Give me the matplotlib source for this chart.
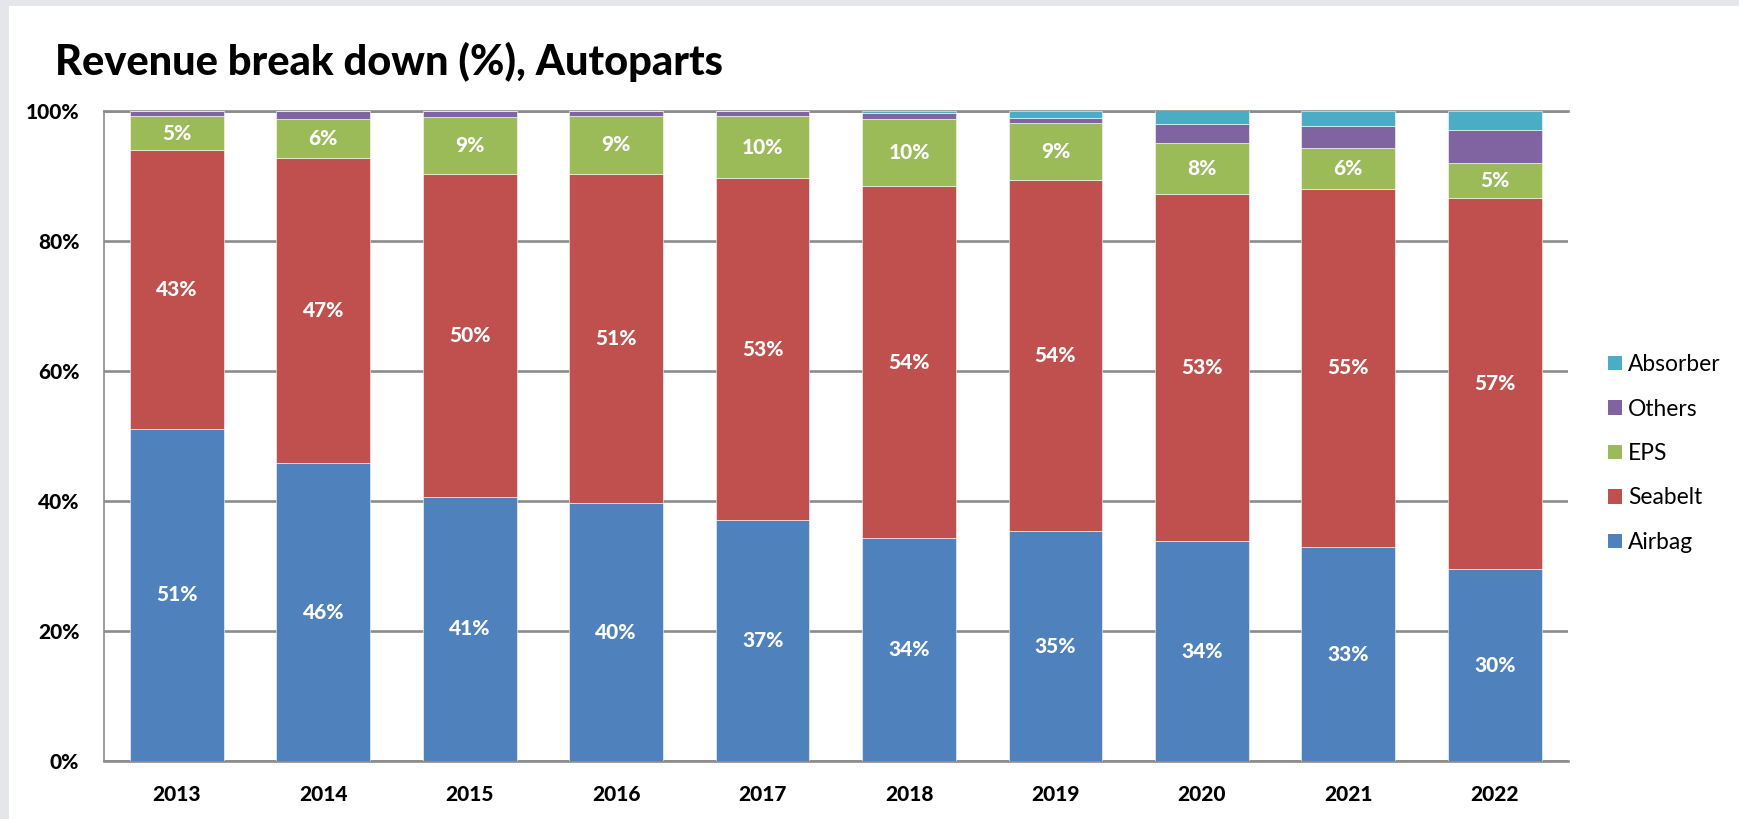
import matplotlib
matplotlib.use("Agg")
import matplotlib.pyplot as plt
from matplotlib.patches import Rectangle, Patch
import numpy as np

years = ["2013", "2014", "2015", "2016", "2017", "2018", "2019", "2020", "2021", "2022"]
airbag = [51.1, 45.8, 40.6, 39.6, 37.0, 34.3, 35.3, 33.8, 32.9, 29.5]
seabelt = [42.8, 47.0, 49.7, 50.7, 52.6, 54.1, 54.0, 53.4, 55.1, 57.1]
eps = [5.3, 5.9, 8.7, 8.9, 9.6, 10.4, 8.8, 7.8, 6.3, 5.4]
others = [0.8, 1.3, 1.0, 0.8, 0.8, 0.8, 0.8, 2.9, 3.3, 5.0]
absorber = [0.0, 0.0, 0.0, 0.0, 0.0, 0.4, 1.1, 2.2, 2.4, 3.0]

series_names = ["Airbag", "Seabelt", "EPS", "Others", "Absorber"]
series_values = [airbag, seabelt, eps, others, absorber]
series_colors = ["#4F81BD", "#C0504D", "#9BBB59", "#8064A2", "#4BACC6"]
labelled = [True, True, True, False, False]
yticks = [0, 20, 40, 60, 80, 100]
ytick_labels = ["0%", "20%", "40%", "60%", "80%", "100%"]
title = "Revenue break down (%), Autoparts"

FONT = "Lato"
W, H = 1740, 819
fig = plt.figure(figsize=(W / 100, H / 100), dpi=100)
fig.patch.set_facecolor("#e4e6ea")
bg = Rectangle((9 / W, 0), 1, 1 - 6 / H, transform=fig.transFigure,
               facecolor="white", edgecolor="none", zorder=-10)
fig.add_artist(bg)

ax = fig.add_axes([103.6 / W, (H - 761) / H, (1568 - 103.6) / W, (761 - 110.7) / H])
ax.set_zorder(1)
ax.set_facecolor("white")

x = np.arange(len(years))
bottom = np.zeros(len(years))
for name, vals, col, lab in zip(series_names, series_values, series_colors, labelled):
    vals = np.array(vals)
    ax.bar(x, vals, width=0.64, bottom=bottom, color=col, label=name,
           edgecolor="white", linewidth=0.4, zorder=3)
    if lab:
        for xi, b, v in zip(x, bottom, vals):
            ax.text(xi, b + v / 2, f"{v:.0f}%", ha="center", va="center",
                    color="white", fontsize=15, fontweight="black", family=FONT, zorder=4)
    bottom += vals

ax.set_xlim(-0.5, len(years) - 0.5)
ax.set_ylim(0, 100)
ax.set_yticks(yticks)
ax.set_yticklabels(ytick_labels)
ax.set_xticks(x)
ax.set_xticklabels(years)
for lbl in ax.get_xticklabels() + ax.get_yticklabels():
    lbl.set_family(FONT)
    lbl.set_fontweight("black")
    lbl.set_fontsize(15)
    lbl.set_color("black")
ax.tick_params(axis="both", length=0)
ax.tick_params(axis="y", pad=17.5)
ax.tick_params(axis="x", pad=17)

ax.yaxis.grid(True, color="#8c8c8c", linewidth=1.9, zorder=1)
ax.set_axisbelow(True)
ax.spines["right"].set_visible(False)
ax.spines["top"].set_color("#8c8c8c")
ax.spines["top"].set_linewidth(1.9)
ax.spines["top"].set_zorder(1)
ax.spines["bottom"].set_color("#8c8c8c")
ax.spines["bottom"].set_linewidth(1.9)
ax.spines["left"].set_color("#8c8c8c")
ax.spines["left"].set_linewidth(1.2)

handles = [Patch(facecolor=c, edgecolor="none") for c in series_colors][::-1]
names = series_names[::-1]
leg = ax.legend(handles, names, loc="center left",
                bbox_to_anchor=(1608 / W, 1 - 453.5 / H), bbox_transform=fig.transFigure,
                frameon=False, borderpad=0, borderaxespad=0,
                handlelength=0.61, handleheight=0.61, handletextpad=0.26,
                labelspacing=1.03, prop={"family": FONT, "size": 16.4})

fig.text(55 / W, 1 - 75 / H, title, ha="left", va="baseline",
         fontsize=30, fontweight="black", family=FONT, color="black")

fig.savefig("out.png", dpi=100, facecolor=fig.get_facecolor())
